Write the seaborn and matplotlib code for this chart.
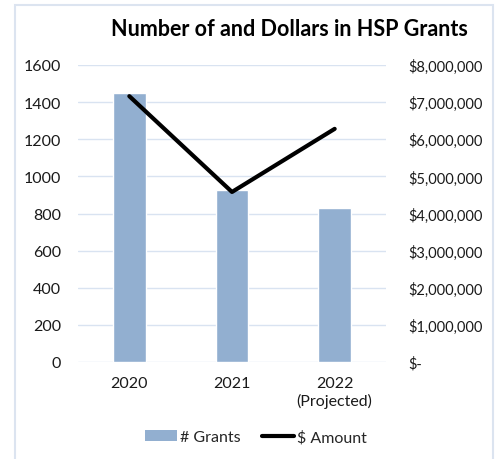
import matplotlib
matplotlib.use('Agg')
import matplotlib.pyplot as plt
import matplotlib.ticker as mticker
import numpy as np
import pandas as pd
import seaborn as sns
from matplotlib.patches import Patch, Rectangle
from matplotlib.lines import Line2D

# chart data
years = ['2020', '2021', '2022\n(Projected)']
num_grants = [1450, 925, 830]
dollar_amount = [7160000, 4580000, 6280000]

BAR_COLOR = '#92AFD0'
GRID_COLOR = '#D9E3F1'

sns.set_theme(style='white')
plt.rcParams['font.family'] = ['Lato', 'DejaVu Sans']

data = pd.DataFrame({'year': years, 'grants': num_grants, 'amount': dollar_amount})
data['pos'] = np.arange(len(data))

W, H = 498, 460
fig = plt.figure(figsize=(W / 100, H / 100), dpi=100)
ax = fig.add_axes([78 / W, 1 - 363 / H, (386 - 78) / W, (363 - 66) / H])

sns.barplot(ax=ax, data=data, x='year', y='grants', color=BAR_COLOR,
            width=0.32, saturation=1)
ax.set_ylim(0, 1600)
ax.set_xlim(-0.5, len(years) - 0.5)
ax.set_yticks(np.arange(0, 1601, 200))
ax.yaxis.grid(True, color=GRID_COLOR, linewidth=1)
ax.set_axisbelow(True)
ax.set_xlabel('')
ax.set_ylabel('')
for s in ax.spines.values():
    s.set_visible(False)
ax.tick_params(axis='both', length=0, labelsize=11.5, colors='#1a1a1a')
ax.tick_params(axis='y', pad=12)
ax.tick_params(axis='x', pad=10)
for lbl in ax.get_xticklabels():
    lbl.set_linespacing(1.25)

ax2 = ax.twinx()
sns.lineplot(ax=ax2, data=data, x='pos', y='amount', color='black', linewidth=3)
ax2.set_ylim(0, 8000000)
ax2.set_xlim(-0.5, len(years) - 0.5)
ax2.set_yticks(np.arange(0, 8000001, 1000000))
ax2.yaxis.set_major_formatter(mticker.FuncFormatter(
    lambda v, p: '$-' if v == 0 else '${:,.0f}'.format(v)))
ax2.set_ylabel('')
for s in ax2.spines.values():
    s.set_visible(False)
ax2.tick_params(axis='y', length=0, labelsize=10.5, colors='#1a1a1a', pad=16)

fig.text(289 / W, 1 - 30 / H, 'Number of and Dollars in HSP Grants',
         ha='center', va='center', fontsize=15.5, fontweight='bold', color='black')

handles = [Patch(facecolor=BAR_COLOR, edgecolor='none'),
           Line2D([0], [0], color='black', linewidth=3)]
fig.legend(handles, ['# Grants', '$ Amount'], loc='center',
           bbox_to_anchor=(256 / W, 1 - 438 / H), ncol=2, frameon=False,
           fontsize=11.5, handlelength=2.0, handletextpad=0.2, columnspacing=1.3)

fig.patches.append(Rectangle((15 / W, -0.05), (493 - 15) / W, 1 - 6 / H + 0.05,
                             transform=fig.transFigure, fill=False,
                             edgecolor='#DCE4F0', linewidth=1.5))

fig.savefig('out.png', dpi=100)
